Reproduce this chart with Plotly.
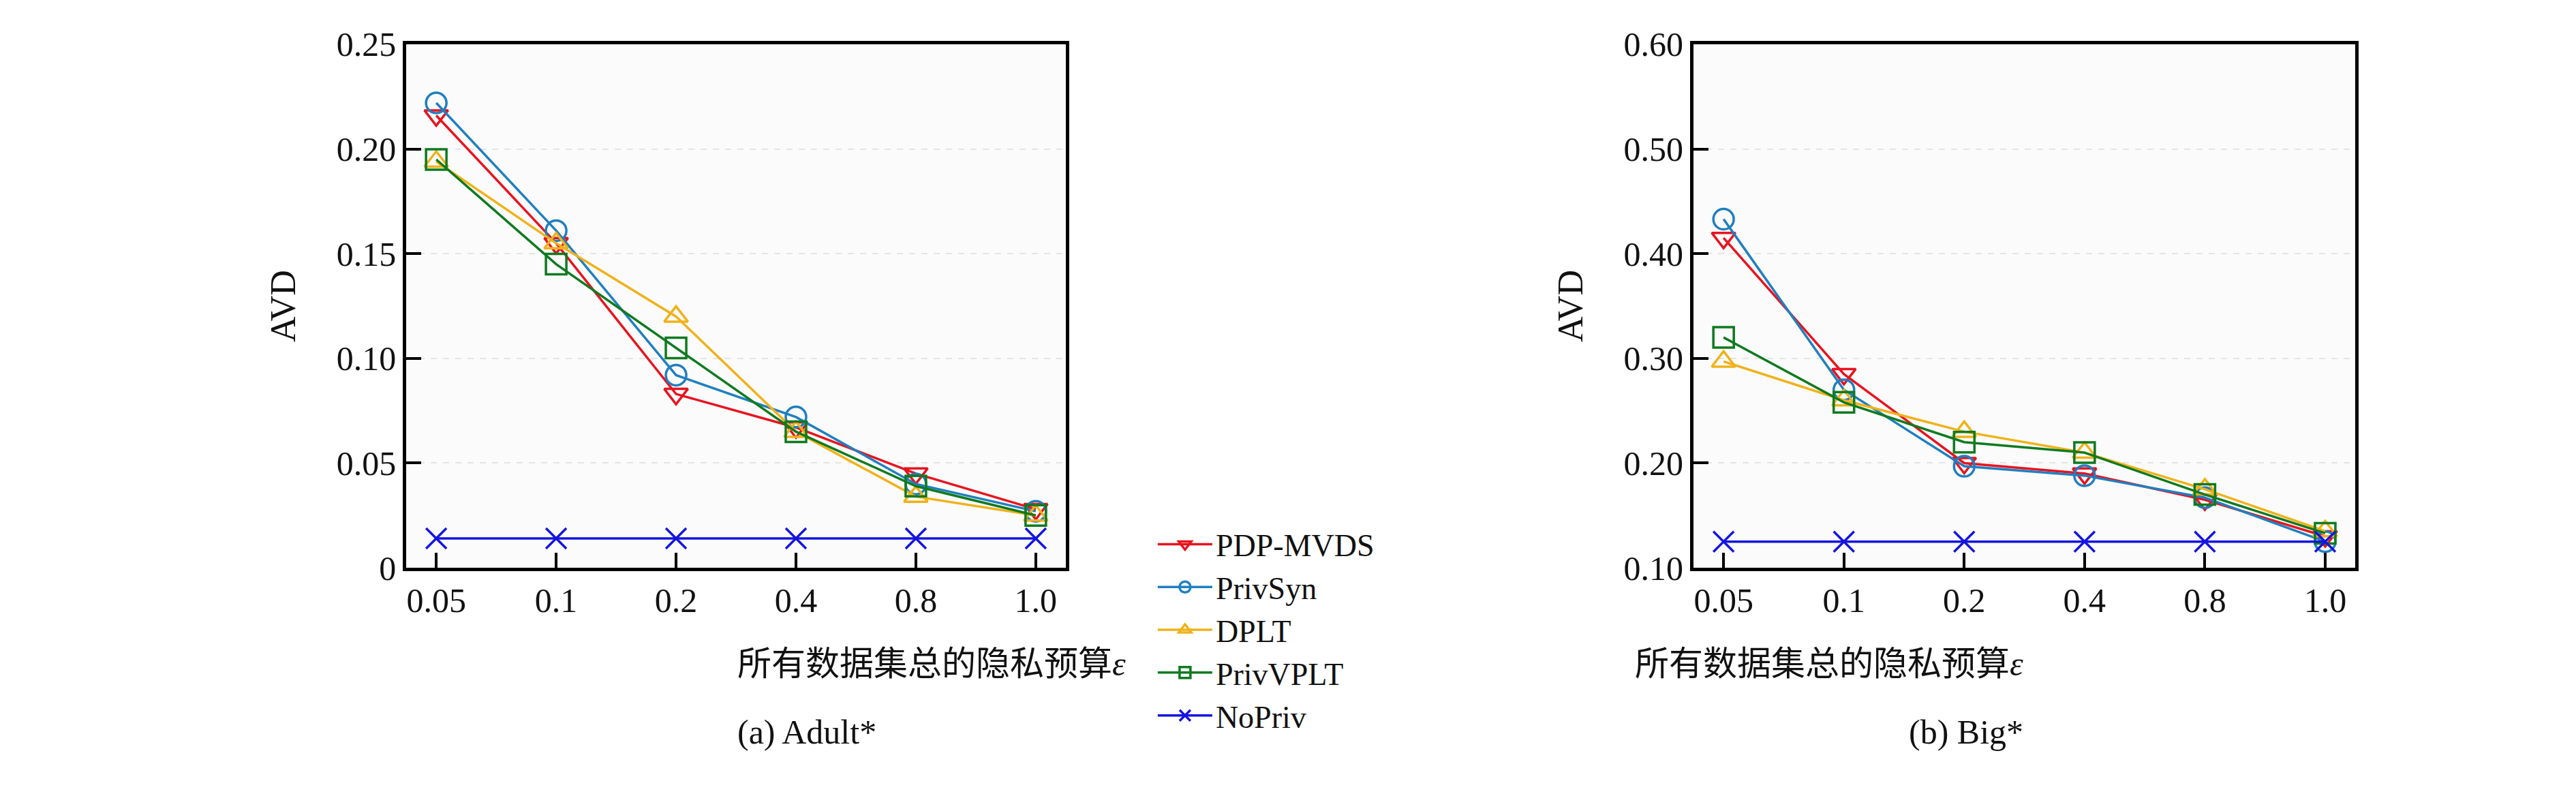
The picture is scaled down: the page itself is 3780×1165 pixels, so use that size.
import plotly.graph_objects as go

eps = ["0.05", "0.1", "0.2", "0.4", "0.8", "1.0"]
series = ["PDP-MVDS", "PrivSyn", "DPLT", "PrivVPLT", "NoPriv"]
adult = {
    "PDP-MVDS": [0.216, 0.155, 0.083, 0.067, 0.045, 0.028],
    "PrivSyn": [0.222, 0.161, 0.092, 0.072, 0.040, 0.027],
    "DPLT": [0.194, 0.155, 0.120, 0.065, 0.034, 0.025],
    "PrivVPLT": [0.195, 0.145, 0.105, 0.065, 0.039, 0.025],
    "NoPriv": [0.014, 0.014, 0.014, 0.014, 0.014, 0.014],
}
big = {
    "PDP-MVDS": [0.415, 0.285, 0.200, 0.190, 0.165, 0.130],
    "PrivSyn": [0.433, 0.270, 0.197, 0.188, 0.167, 0.125],
    "DPLT": [0.297, 0.260, 0.230, 0.210, 0.175, 0.135],
    "PrivVPLT": [0.320, 0.258, 0.220, 0.210, 0.170, 0.133],
    "NoPriv": [0.125, 0.125, 0.125, 0.125, 0.125, 0.125],
}
adult_ticks = [0, 0.05, 0.10, 0.15, 0.20, 0.25]
adult_ticklabels = ["0", "0.05", "0.10", "0.15", "0.20", "0.25"]
big_ticks = [0.1, 0.2, 0.3, 0.4, 0.5, 0.6]
big_ticklabels = ["0.10", "0.20", "0.30", "0.40", "0.50", "0.60"]

colors = {"PDP-MVDS": "#e8131f", "PrivSyn": "#1f7fc0", "DPLT": "#f0b21a",
          "PrivVPLT": "#0f7a1f", "NoPriv": "#1414e0"}
symbols = {"PDP-MVDS": "triangle-down-open", "PrivSyn": "circle-open",
           "DPLT": "triangle-up-open", "PrivVPLT": "square-open", "NoPriv": "x-thin-open"}

fig = go.Figure()
for ax, data in (("", adult), ("2", big)):
    for s in series:
        fig.add_trace(go.Scatter(
            x=eps, y=data[s], name=s, mode="lines+markers",
            xaxis="x" + ax, yaxis="y" + ax, showlegend=(ax == ""),
            line=dict(color=colors[s], width=3.5),
            marker=dict(symbol=symbols[s], size=30, color=colors[s],
                        line=dict(width=3.5, color=colors[s])),
        ))

FONT = "Liberation Serif"
axcommon = dict(showline=True, linecolor="black", linewidth=5, mirror=True,
                ticks="inside", tickwidth=4, ticklen=22, tickcolor="black",
                tickfont=dict(family=FONT, size=50, color="#111"))
xcommon = dict(axcommon, type="category", range=[-0.25, 5.25], showgrid=False)
ycommon = dict(axcommon, showgrid=True, gridcolor="#e4e4e4", griddash="dash", gridwidth=2,
               zeroline=False)
ytitle = dict(text="AVD", font=dict(family=FONT, size=52, color="#111"), standoff=45)
fig.update_layout(
    width=3780, height=1165, paper_bgcolor="white", plot_bgcolor="#fbfbfb",
    margin=dict(l=0, r=0, t=0, b=0),
    xaxis=dict(xcommon, domain=[0.1556, 0.4116], anchor="y"),
    yaxis=dict(ycommon, domain=[0.281, 0.973], anchor="x", range=[0, 0.25],
               tickvals=adult_ticks, ticktext=adult_ticklabels, title=ytitle),
    xaxis2=dict(xcommon, domain=[0.6553, 0.9122], anchor="y2"),
    yaxis2=dict(ycommon, domain=[0.281, 0.973], anchor="x2", range=[0.1, 0.6],
                tickvals=big_ticks, ticktext=big_ticklabels, title=ytitle),
    legend=dict(x=0.446, y=0.345, xanchor="left", yanchor="top",
                font=dict(family=FONT, size=46, color="#111"), bgcolor="rgba(0,0,0,0)",
                tracegroupgap=0, itemwidth=80),
)
xl = "<span style='font-family:Noto Sans CJK SC'>所有数据集总的隐私预算</span><i>ε</i>"
for cx, t in ((0.2836, "(a) Adult*"), (0.7838, "(b) Big*")):
    fig.add_annotation(x=cx, y=1-1020/1165, xref="paper", yref="paper", text=xl,
                       showarrow=False, font=dict(family=FONT, size=50, color="#111"))
    fig.add_annotation(x=cx, y=1-1122/1165, xref="paper", yref="paper", text=t,
                       showarrow=False, font=dict(family=FONT, size=50, color="#111"))
fig.write_html("out.html")
